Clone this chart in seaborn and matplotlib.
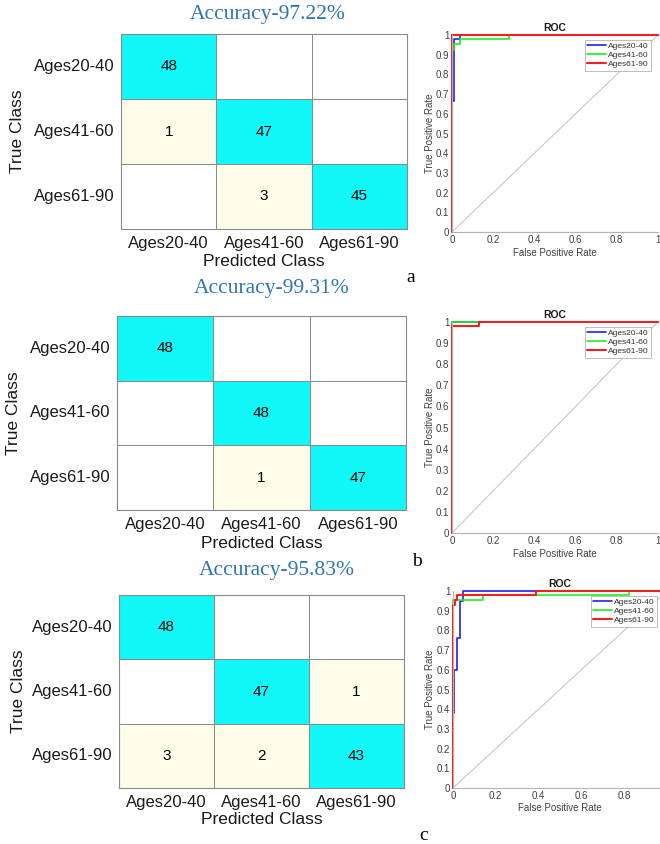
import numpy as np
import matplotlib
matplotlib.use("Agg")
import matplotlib.pyplot as plt
from matplotlib.colors import ListedColormap
import seaborn as sns

# ---------------- data ----------------
classes = ["Ages20-40", "Ages41-60", "Ages61-90"]
accuracy_labels = ["Accuracy-97.22%", "Accuracy-99.31%", "Accuracy-95.83%"]
panel_letters = ["a", "b", "c"]

cm_a = [[48, 0, 0], [1, 47, 0], [0, 3, 45]]
cm_b = [[48, 0, 0], [0, 48, 0], [0, 1, 47]]
cm_c = [[48, 0, 0], [0, 47, 1], [3, 2, 43]]

# ROC step curves (fpr, tpr) per class
roc_a_fpr_1 = [0, 0, 0.009, 0.009, 0.038, 0.038, 1]
roc_a_tpr_1 = [0, 0.667, 0.667, 0.979, 0.979, 1, 1]
roc_a_fpr_2 = [0, 0, 0.009, 0.009, 0.038, 0.038, 0.275, 0.275, 1]
roc_a_tpr_2 = [0, 0.924, 0.924, 0.954, 0.954, 0.979, 0.979, 1, 1]
roc_a_fpr_3 = [0, 0, 1]
roc_a_tpr_3 = [0, 1, 1]

roc_b_fpr_1 = [0, 0, 1]
roc_b_tpr_1 = [0, 1, 1]
roc_b_fpr_2 = [0, 0, 1]
roc_b_tpr_2 = [0, 1, 1]
roc_b_fpr_3 = [0, 0, 0.13, 0.13, 1]
roc_b_tpr_3 = [0, 0.979, 0.979, 1, 1]

roc_c_fpr_1 = [0, 0, 0.006, 0.006, 0.019, 0.019, 0.034, 0.034, 0.047, 0.047, 1]
roc_c_tpr_1 = [0, 0.38, 0.38, 0.6, 0.6, 0.762, 0.762, 0.95, 0.95, 1, 1]
roc_c_fpr_2 = [0, 0, 0.14, 0.14, 0.823, 0.823, 1]
roc_c_tpr_2 = [0, 0.955, 0.955, 0.978, 0.978, 1, 1]
roc_c_fpr_3 = [0, 0, 0.008, 0.008, 0.019, 0.019, 0.39, 0.39, 1]
roc_c_tpr_3 = [0, 0.93, 0.93, 0.955, 0.955, 0.978, 0.978, 1, 1]

roc_sets = [
    [(roc_a_fpr_1, roc_a_tpr_1), (roc_a_fpr_2, roc_a_tpr_2), (roc_a_fpr_3, roc_a_tpr_3)],
    [(roc_b_fpr_1, roc_b_tpr_1), (roc_b_fpr_2, roc_b_tpr_2), (roc_b_fpr_3, roc_b_tpr_3)],
    [(roc_c_fpr_1, roc_c_tpr_1), (roc_c_fpr_2, roc_c_tpr_2), (roc_c_fpr_3, roc_c_tpr_3)],
]
cms = [cm_a, cm_b, cm_c]
x_ticks = [0, 0.2, 0.4, 0.6, 0.8, 1]
y_ticks = [0, 0.1, 0.2, 0.3, 0.4, 0.5, 0.6, 0.7, 0.8, 0.9, 1]

# ---------------- layout (pixels) ----------------
W, H = 660, 844
cm_rects = [(121, 34, 407, 229), (117, 316, 406, 510), (119, 595, 404, 788)]
roc_rects = [(452, 35, 658, 232), (452, 322, 658, 533), (453, 591, 667, 788)]
title_pos = [(268, 15), (272, 289), (277, 571)]
xlabel_y = [261, 543, 819]
ylabel_x = [18, 14, 18]
letter_pos = [(411, 277), (417, 562), (424, 836)]
roc_xlabel_y = [253, 554, 808]
roc_ylabel_x = 430
legend_anchor_x = [0.975, 0.975, 0.962]

sns.set_style("white")
plt.rcParams["font.family"] = ["Liberation Sans", "DejaVu Sans"]

fig = plt.figure(figsize=(W / 100, H / 100), dpi=100)
fig.patch.set_facecolor("white")


def rect(r):
    l, t, rr, b = r
    return [l / W, 1 - b / H, (rr - l) / W, (b - t) / H]


def to_ax(r, px, py):
    l, t, rr, b = r
    return (px - l) / (rr - l), (b - py) / (b - t)


cmap = ListedColormap(["#ffffff", "#fefde9", "#12f8f8"])
line_colors = ["#2020f0", "#22ee22", "#f02020"]
serif = ["Liberation Serif", "DejaVu Serif"]

for k in range(3):
    cm = np.array(cms[k])
    n = len(classes)
    idx = np.arange(n)
    cat = np.where(idx[:, None] == idx[None, :], 2, np.where(cm > 0, 1, 0))
    annot = np.where(cm > 0, cm.astype(str), "")

    r = cm_rects[k]
    ax = fig.add_axes(rect(r))
    sns.heatmap(cat, cmap=cmap, vmin=0, vmax=2, annot=annot, fmt="", cbar=False,
                linewidths=0.7, linecolor="#8a8a8a", ax=ax,
                xticklabels=classes, yticklabels=classes,
                annot_kws=dict(size=11, color="black"))
    for s in ax.spines.values():
        s.set_visible(True)
        s.set_color("#8a8a8a")
        s.set_linewidth(0.8)
    ax.tick_params(axis="both", length=0, labelsize=12, colors="#1a1a1a")
    ax.tick_params(axis="x", pad=5)
    ax.tick_params(axis="y", pad=4.5)
    plt.setp(ax.get_yticklabels(), rotation=0)
    plt.setp(ax.get_xticklabels(), rotation=0)

    ax.set_xlabel("Predicted Class", fontsize=12.5, color="#1a1a1a")
    ax.xaxis.set_label_coords(*to_ax(r, (r[0] + r[2]) / 2, xlabel_y[k]))
    ax.xaxis.label.set_va("center")
    ax.set_ylabel("True Class", fontsize=12.5, color="#1a1a1a")
    ax.yaxis.set_label_coords(*to_ax(r, ylabel_x[k], (r[1] + r[3]) / 2))
    ax.yaxis.label.set_va("center")

    tx, ty = to_ax(r, *title_pos[k])
    ax.text(tx, ty, accuracy_labels[k], transform=ax.transAxes, ha="center",
            va="center", fontsize=15.5, color="#2e75b6", family=serif)

    lx, ly = letter_pos[k]
    fig.text(lx / W, 1 - ly / H, panel_letters[k], ha="center", va="center",
             fontsize=14, color="black", family=serif)

    # ROC panel
    rr = roc_rects[k]
    ax2 = fig.add_axes(rect(rr))
    ax2.plot([0, 1], [0, 1], color="#c8c8c8", lw=0.8)
    for j, (fpr, tpr) in enumerate(roc_sets[k]):
        sns.lineplot(x=fpr, y=tpr, estimator=None, sort=False, ax=ax2,
                     color=line_colors[j], lw=1.5 if j == 2 else 1.2,
                     label=classes[j], clip_on=False)
    ax2.set_xlim(0, 1)
    ax2.set_ylim(0, 1)
    ax2.set_xticks(x_ticks)
    # the last panel's x axis runs past the image edge, so its "1" is not shown
    ax2.set_xticklabels([f"{v:g}" if (k < 2 or v < 1) else "" for v in x_ticks])
    ax2.set_yticks(y_ticks)
    ax2.set_yticklabels([f"{v:g}" for v in y_ticks])
    for side in ["top", "right"]:
        ax2.spines[side].set_visible(False)
    for side in ["left", "bottom"]:
        ax2.spines[side].set_color("#b4b4b4")
        ax2.spines[side].set_linewidth(0.8)
    ax2.tick_params(axis="both", direction="in", length=2.5, width=0.6,
                    colors="#b4b4b4", labelcolor="#404040", labelsize=7, pad=2)
    ax2.set_title("ROC", fontsize=7.5, fontweight="bold", color="#1a1a1a", pad=3)
    ax2.set_xlabel("False Positive Rate", fontsize=7, color="#404040")
    ax2.xaxis.set_label_coords(*to_ax(rr, (rr[0] + rr[2]) / 2, roc_xlabel_y[k]))
    ax2.xaxis.label.set_va("center")
    ax2.set_ylabel("True Positive Rate", fontsize=7, color="#404040")
    ax2.yaxis.set_label_coords(*to_ax(rr, roc_ylabel_x, (rr[1] + rr[3]) / 2))
    ax2.yaxis.label.set_va("center")
    leg = ax2.legend(loc="upper right", bbox_to_anchor=(legend_anchor_x[k], 0.985),
                     fontsize=6, frameon=True, fancybox=False, handlelength=2.2,
                     handletextpad=0.3, borderpad=0.3, labelspacing=0.15,
                     borderaxespad=0.2)
    leg.get_frame().set_edgecolor("#a0a0a0")
    leg.get_frame().set_linewidth(0.6)
    for t in leg.get_texts():
        t.set_color("#333333")

fig.savefig("out.png", dpi=100, facecolor="white")
